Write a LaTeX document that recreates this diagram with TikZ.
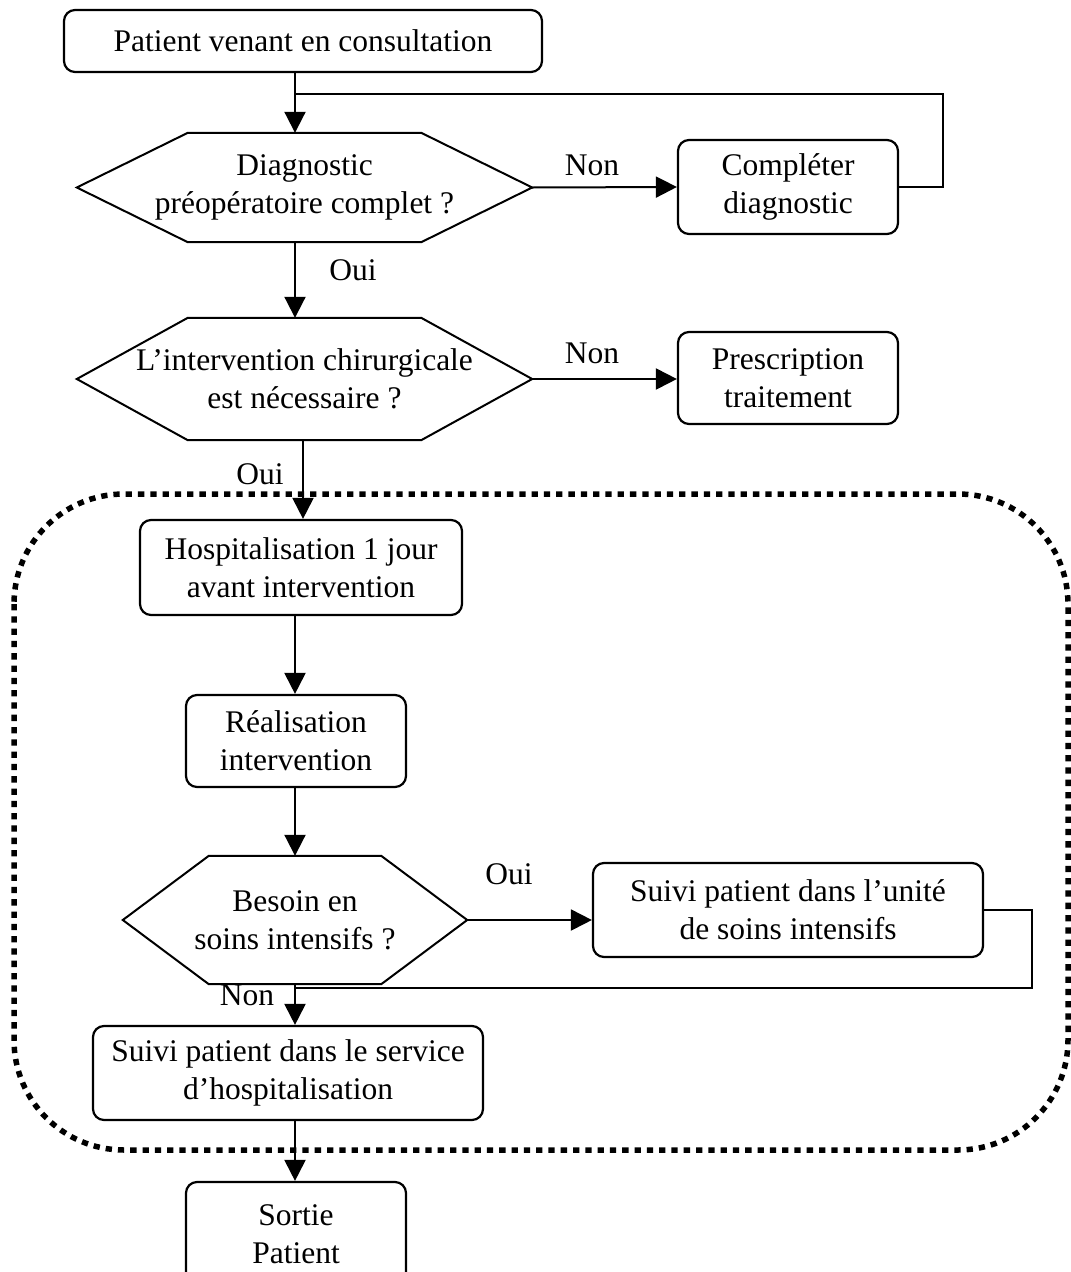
\documentclass[tikz,border=0pt]{standalone}
\usepackage{fontspec}
\setmainfont{Liberation Serif}
\usetikzlibrary{arrows.meta}
\newcommand\hexpath[2]{\draw[hexline] (#1.west) -- ([xshift=#2]#1.north west) -- ([xshift=-#2]#1.north east) -- (#1.east) -- ([xshift=-#2]#1.south east) -- ([xshift=#2]#1.south west) -- cycle;}
\begin{document}
\begin{tikzpicture}[x=1pt,y=-1pt,
 every node/.style={font=\fontsize{31.5}{38}\selectfont},
 boxnode/.style={draw, line width=2.2pt, rounded corners=11pt, align=center, inner sep=0pt},
 hexnode/.style={align=center, inner sep=0pt},
 hexline/.style={line width=2pt, line join=miter},
 conn/.style={line width=2pt},
 arr/.style={conn, -{Triangle[length=21pt,width=21pt]}},
 lbl/.style={inner sep=0pt},
 frame/.style={line width=5.5pt, dash pattern=on 6.3pt off 6pt, rounded corners=110pt}]
\useasboundingbox (0,0) rectangle (1071,1272);
\clip (0,0) rectangle (1071,1272);

% spine coordinates
\coordinate (sp) at (295,0);
\coordinate (sq) at (303,0);
\coordinate (j1) at (295,94);
\coordinate (k1) at (943,94);
\coordinate (j3) at (295,988);
\coordinate (k3) at (1032,988);

% nodes
\node[boxnode, minimum width=478, minimum height=62] (p1) at (303,41) {Patient venant en consultation};
\node[hexnode, minimum width=455, minimum height=109] (d1) at (304.5,187.5) {Diagnostic\\préopératoire complet ?};
\hexpath{d1}{111}
\node[boxnode, minimum width=220, minimum height=94] (c1) at (788,187) {Compléter\\diagnostic};
\node[hexnode, minimum width=455, minimum height=122] (d2) at (304.5,379) {L’intervention chirurgicale\\est nécessaire ?};
\hexpath{d2}{111}
\node[boxnode, minimum width=220, minimum height=92] (c2) at (788,378) {Prescription\\traitement};
\node[boxnode, minimum width=322, minimum height=95] (h) at (301,567.5) {Hospitalisation 1 jour\\avant intervention};
\node[boxnode, minimum width=220, minimum height=92] (r) at (296,741) {Réalisation\\intervention};
\node[hexnode, minimum width=344, minimum height=128] (d3) at (295,920) {Besoin en\\soins intensifs ?};
\hexpath{d3}{86}
\node[boxnode, minimum width=390, minimum height=94] (u) at (788,910) {Suivi patient dans l’unité\\de soins intensifs};
\node[boxnode, minimum width=390, minimum height=94] (s) at (288,1073) {Suivi patient dans le service\\d’hospitalisation};
\node[boxnode, minimum width=220, minimum height=104] (o) at (296,1234) {Sortie\\Patient};

% labels
\node[lbl] (l1) at (592,165) {Non};
\node[lbl] (l2) at (353,270) {Oui};
\node[lbl] (l3) at (592,353) {Non};
\node[lbl] (l4) at (260,474) {Oui};
\node[lbl] (l5) at (509,874) {Oui};
\node[lbl] (l6) at (247,995) {Non};

% connectors
\draw[arr] (p1.south -| sp) -- (d1.north -| sp);
\draw[conn] (c1.east) -| (k1) -- (j1);
\draw[arr] (d1.east) -- (c1.west);
\draw[arr] (d1.south -| sp) -- (d2.north -| sp);
\draw[arr] (d2.east) -- (d2.east -| c2.west);
\draw[arr] (d2.south -| sq) -- (h.north -| sq);
\draw[arr] (h.south -| sp) -- (r.north -| sp);
\draw[arr] (r.south -| sp) -- (d3.north -| sp);
\draw[arr] (d3.east) -- (d3.east -| u.west);
\draw[conn] (u.east) -| (k3) -- (j3);
\draw[arr] (d3.south -| sp) -- (s.north -| sp);
\draw[arr] (s.south -| sp) -- (o.north -| sp);

% dotted frame
\draw[frame] (14,494) rectangle (1068,1150);
\end{tikzpicture}
\end{document}
